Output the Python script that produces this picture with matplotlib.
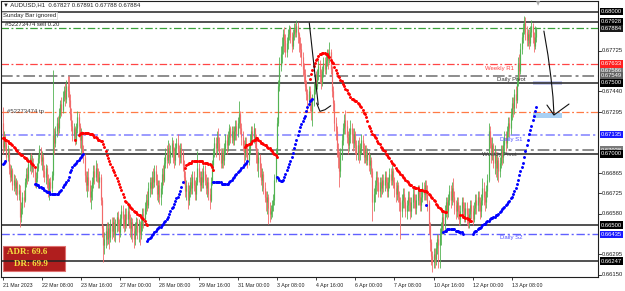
import matplotlib
matplotlib.use("Agg")
import matplotlib.pyplot as plt
from matplotlib.patches import Rectangle
from matplotlib.transforms import blended_transform_factory
import numpy as np

plt.rcParams["font.family"] = ["Liberation Sans", "DejaVu Sans"]

# ---------------- data (prices in 1/10000) ----------------
first_open = 6722
close_ = [
6705,6712,6708,6698,6702,6690,6684,6689,6678,6682,
6676,6680,6672,6675,6656,6662,6670,6668,6680,6686,
6683,6693,6697,6690,6694,6688,6680,6683,6690,6697,
6703,6695,6698,6688,6684,6690,6682,6674,6680,6676,
6685,6713,6708,6716,6722,6718,6728,6735,6731,6740,
6745,6739,6748,6744,6738,6728,6720,6713,6718,6710,
6718,6726,6720,6710,6714,6702,6698,6685,6678,6684,
6678,6670,6674,6680,6688,6684,6690,6686,6680,6684,
6668,6648,6636,6640,6646,6640,6648,6642,6650,6646,
6652,6644,6650,6656,6650,6645,6655,6660,6654,6650,
6658,6654,6660,6654,6648,6652,6646,6640,6648,6652,
6645,6650,6644,6652,6658,6654,6662,6668,6664,6676,
6680,6676,6684,6680,6688,6682,6672,6678,6670,6676,
6686,6682,6694,6700,6696,6704,6698,6702,6708,6700,
6696,6704,6708,6702,6698,6704,6700,6692,6684,6674,
6678,6668,6674,6680,6676,6684,6678,6672,6680,6690,
6684,6678,6684,6680,6688,6682,6676,6680,6672,6668,
6680,6692,6700,6708,6704,6712,6708,6700,6694,6700,
6696,6704,6710,6706,6712,6718,6712,6716,6710,6716,
6720,6714,6722,6728,6718,6712,6706,6700,6708,6702,
6696,6704,6710,6716,6712,6718,6712,6700,6694,6698,
6690,6682,6686,6676,6670,6666,6670,6662,6658,6660,
6664,6668,6682,6700,6722,6748,6762,6770,6776,6784,
6780,6772,6778,6784,6788,6782,6776,6784,6788,6786,
6790,6784,6778,6774,6768,6760,6756,6748,6742,6738,
6744,6736,6730,6738,6746,6752,6748,6756,6762,6756,
6750,6758,6764,6760,6766,6770,6766,6772,6760,6744,
6736,6722,6716,6704,6698,6688,6700,6710,6718,6724,
6720,6712,6706,6714,6718,6714,6708,6714,6706,6700,
6706,6700,6704,6710,6704,6698,6702,6696,6700,6692,
6696,6688,6666,6672,6678,6684,6680,6674,6680,6676,
6682,6678,6684,6680,6674,6680,6686,6682,6688,6680,
6676,6672,6678,6670,6666,6660,6668,6672,6666,6660,
6664,6670,6666,6660,6666,6672,6668,6662,6668,6674,
6670,6664,6670,6676,6672,6678,6672,6666,6650,6638,
6628,6624,6630,6626,6634,6640,6636,6644,6648,6656,
6650,6660,6666,6660,6668,6674,6668,6676,6670,6664,
6660,6666,6660,6654,6660,6666,6662,6656,6662,6658,
6652,6658,6664,6660,6654,6662,6668,6664,6670,6666,
6660,6668,6676,6670,6666,6674,6682,6716,6708,6700,
6706,6694,6700,6690,6696,6688,6694,6702,6698,6706,
6712,6708,6716,6722,6718,6728,6736,6732,6742,6738,
6750,6764,6758,6774,6782,6788,6792,6786,6780,6784,
6778,6786,6790,6782,6776,6782,6788]
high_ = [
6733,6716,6714,6710,6706,6704,6693,6692,6690,6686,
6685,6683,6682,6679,6678,6666,6673,6675,6683,6690,
6691,6697,6700,6701,6699,6697,6690,6687,6694,6700,
6706,6705,6702,6700,6692,6693,6692,6686,6683,6684,
6688,6759,6718,6720,6726,6727,6732,6738,6740,6744,
6748,6750,6752,6755,6755,6742,6732,6724,6722,6720,
6722,6730,6729,6722,6718,6716,6706,6700,6688,6688,
6690,6682,6678,6684,6692,6692,6696,6694,6690,6688,
6686,6670,6650,6645,6650,6652,6652,6651,6654,6656,
6656,6656,6654,6659,6660,6654,6658,6664,6664,6658,
6662,6662,6666,6664,6658,6656,6655,6650,6652,6656,
6655,6654,6653,6656,6662,6662,6666,6672,6674,6680,
6684,6684,6688,6690,6692,6692,6686,6682,6682,6680,
6690,6692,6698,6704,6706,6710,6708,6706,6712,6710,
6705,6708,6711,6714,6706,6708,6708,6703,6696,6688,
6682,6680,6678,6684,6686,6688,6688,6682,6684,6702,
6694,6688,6688,6690,6692,6692,6686,6684,6684,6676,
6684,6696,6704,6712,6712,6716,6718,6712,6704,6704,
6704,6708,6714,6714,6716,6721,6720,6720,6720,6720,
6724,6724,6726,6737,6730,6722,6716,6710,6712,6712,
6706,6708,6714,6720,6720,6722,6718,6714,6704,6702,
6700,6694,6690,6688,6680,6674,6674,6672,6666,6664,
6668,6672,6686,6704,6726,6752,6768,6776,6782,6788,
6789,6784,6782,6788,6791,6790,6786,6788,6792,6792,
6794,6793,6786,6782,6778,6772,6764,6760,6752,6746,
6748,6748,6740,6742,6750,6756,6758,6760,6766,6766,
6760,6762,6768,6768,6770,6774,6774,6779,6774,6762,
6748,6738,6726,6720,6708,6702,6704,6714,6722,6728,
6731,6724,6716,6718,6724,6722,6718,6718,6716,6710,
6710,6712,6708,6714,6713,6708,6706,6706,6704,6702,
6700,6698,6690,6676,6682,6688,6688,6684,6684,6684,
6686,6686,6688,6688,6684,6684,6690,6690,6692,6690,
6684,6680,6682,6680,6674,6670,6672,6676,6676,6670,
6668,6674,6674,6670,6670,6676,6676,6672,6672,6678,
6678,6674,6674,6680,6680,6682,6682,6678,6668,6652,
6640,6632,6634,6634,6638,6644,6644,6648,6652,6660,
6660,6664,6670,6670,6672,6678,6678,6680,6683,6674,
6668,6670,6670,6664,6664,6670,6670,6666,6666,6666,
6662,6662,6668,6668,6664,6666,6672,6672,6674,6674,
6670,6672,6683,6680,6674,6678,6686,6722,6720,6712,
6712,6708,6706,6702,6700,6698,6698,6706,6706,6710,
6716,6716,6720,6726,6726,6732,6740,6740,6746,6748,
6754,6768,6770,6778,6786,6792,6797,6796,6790,6788,
6788,6790,6794,6792,6786,6790,6789]
low_ = [
6700,6702,6703,6694,6695,6686,6680,6681,6675,6674,
6672,6671,6668,6668,6649,6652,6658,6663,6666,6677,
6679,6681,6688,6686,6687,6684,6677,6676,6680,6688,
6694,6692,6689,6684,6680,6679,6676,6670,6668,6672,
6673,6682,6700,6705,6712,6713,6715,6725,6727,6729,
6737,6734,6736,6740,6733,6724,6716,6709,6710,6706,
6707,6715,6712,6704,6700,6698,6694,6680,6674,6670,
6674,6666,6661,6668,6676,6679,6681,6680,6676,6676,
6664,6642,6624,6630,6634,6636,6637,6633,6638,6640,
6642,6639,6638,6645,6646,6638,6642,6650,6648,6645,
6646,6648,6650,6648,6642,6640,6638,6634,6636,6643,
6640,6638,6636,6640,6646,6648,6650,6658,6660,6662,
6670,6672,6672,6676,6677,6678,6668,6666,6665,6664,
6672,6678,6680,6690,6690,6694,6692,6694,6698,6694,
6690,6692,6700,6698,6692,6694,6694,6688,6679,6670,
6668,6661,6664,6670,6672,6672,6674,6668,6668,6678,
6680,6674,6674,6676,6676,6678,6672,6670,6668,6661,
6666,6678,6688,6698,6698,6700,6702,6696,6690,6690,
6690,6692,6700,6700,6702,6706,6708,6708,6706,6706,
6710,6710,6712,6718,6714,6706,6702,6694,6696,6698,
6690,6692,6700,6706,6706,6708,6704,6694,6688,6684,
6684,6678,6674,6672,6666,6660,6658,6651,6652,6654,
6656,6660,6664,6680,6698,6720,6744,6758,6764,6770,
6772,6768,6768,6774,6780,6778,6772,6774,6780,6782,
6782,6778,6772,6768,6762,6755,6750,6744,6738,6730,
6734,6730,6724,6720,6734,6742,6744,6746,6752,6750,
6746,6748,6754,6756,6756,6762,6760,6764,6756,6740,
6730,6716,6710,6698,6690,6677,6684,6696,6706,6714,
6714,6708,6700,6702,6708,6708,6702,6704,6700,6696,
6696,6694,6696,6700,6700,6694,6694,6692,6692,6688,
6686,6684,6653,6660,6666,6672,6674,6670,6670,6670,
6672,6673,6674,6676,6670,6670,6676,6678,6678,6676,
6670,6666,6668,6666,6660,6640,6656,6662,6662,6656,
6654,6660,6660,6654,6656,6662,6662,6658,6658,6664,
6664,6660,6660,6666,6668,6668,6668,6660,6644,6632,
6622,6617,6620,6620,6622,6630,6620,6620,6636,6644,
6644,6646,6656,6654,6656,6664,6662,6664,6666,6658,
6654,6656,6654,6650,6650,6656,6656,6652,6652,6650,
6648,6648,6654,6654,6650,6652,6658,6658,6660,6660,
6654,6656,6664,6664,6660,6662,6670,6680,6704,6694,
6696,6690,6686,6684,6682,6680,6684,6690,6692,6694,
6700,6702,6704,6712,6712,6714,6724,6726,6728,6732,
6736,6748,6752,6756,6770,6778,6784,6780,6776,6776,
6774,6776,6782,6778,6772,6774,6779]

# trend indicator (dotted), segments: start bar + values
red_starts = [0, 59, 62, 149, 198, 251, 374]
red_values = [
 [6711,6711,6710,6710,6709,6708,6708,6707,6706,6705,6704,6703,6702,6701,6700,6699,6699,6698,6697,6697,6696,6695,6695,6694,6693,6692,6691],
 [6710],
 [6713,6714,6715,6715,6715,6715,6715,6715,6715,6714,6714,6714,6713,6712,6712,6711,6710,6710,6709,6709,
  6707,6705,6702,6699,6697,6695,6693,6691,6689,6687,6685,6683,6681,6679,6677,6675,6672,6670,6667,6666,
  6665,6664,6663,6662,6661,6660,6659,6659,6658,6657,6657,6656,6655,6654,6653,6651,6650],
 [6690,6692,6693,6694,6694,6694,6695,6695,6695,6695,6695,6695,6695,6695,6695,6694,6694,6694,6694,6693,6693,6692,6691,6689],
 [6705,6706,6706,6707,6707,6708,6709,6710,6710,6711,6711,6710,6709,6708,6708,6707,6706,6706,6705,6704,6704,6703,6702,6701,6700,6699,6698],
 [6753,6756,6759,6762,6764,6766,6767,6769,6770,6770,6771,6771,6771,6770,6770,6769,6768,6766,6765,6764,
  6761,6759,6757,6755,6754,6752,6751,6749,6748,6746,6745,6743,6742,6740,6739,6739,6738,6737,6737,6736,
  6735,6734,6733,6731,6729,6728,6726,6723,6720,6718,6716,6714,6713,6712,6711,6709,6708,6707,6705,6704,
  6703,6702,6700,6699,6698,6697,6695,6694,6693,6692,6690,6689,6688,6687,6686,6685,6684,6683,6682,6681,
  6680,6679,6678,6678,6677,6677,6676,6676,6676,6675,6675,6675,6675,6674,6674,6674,6673,6672,6671,6670,
  6669,6668,6667,6665,6664,6663,6662,6661,6660,6660,6659,6659],
 [6657,6657,6656,6656,6655,6655,6654,6654,6653,6653],
]
blue_starts = [0, 26, 118, 172, 224, 346, 360, 384]
blue_values = [
 [6693,6694,6695],
 [6679,6679,6678,6678,6677,6677,6676,6676,6675,6674,6673,6673,6673,6672,6672,6672,6672,6672,6672,6672,
  6673,6674,6675,6677,6678,6679,6680,6682,6684,6687,6689,6691,6692,6693,6694,6695,6696,6697,6698,6699,6700],
 [6639,6640,6641,6642,6643,6644,6645,6646,6647,6648,6649,6649,6650,6651,6652,6653,6654,6656,6658,6660,
  6662,6663,6665,6667,6669,6670,6672,6674,6677,6680],
 [6680,6680,6680,6680,6680,6680,6680,6679,6679,6679,6679,6679,6679,6680,6681,6682,6683,6684,6685,6686,
  6687,6688,6689,6690,6691,6692,6693,6694,6695],
 [6684,6683,6682,6681,6681,6682,6684,6686,6689,6691,6693,6695,6698,6701,6704,6707,6710,6713,6716,6719,
  6721,6723,6725,6727,6730,6733,6735,6737,6738,6739],
 [6664],
 [6645,6646,6646,6647,6647,6647,6647,6647,6647,6647,6646,6646,6646,6645,6645,6645,6644],
 [6644,6645,6646,6646,6647,6648,6648,6649,6650,6651,6651,6652,6653,6653,6654,6655,6655,6656,6656,6657,
  6657,6658,6659,6660,6661,6662,6663,6664,6665,6666,6667,6669,6670,6672,6674,6676,6679,6682,6685,6688,
  6691,6694,6698,6702,6706,6710,6714,6717,6720,6724,6727,6730,6733],
]

x_tick_labels = ["21 Mar 2023", "22 Mar 08:00", "23 Mar 16:00", "27 Mar 00:00", "28 Mar 08:00",
                 "29 Mar 16:00", "31 Mar 00:00", "3 Apr 08:00", "4 Apr 16:00", "6 Apr 00:00",
                 "7 Apr 08:00", "10 Apr 16:00", "12 Apr 00:00", "13 Apr 08:00"]
bars_per_label = 32

solid_levels = [0.68000, 0.67928, 0.67500, 0.67000, 0.66500, 0.66247]
sell_price = 0.67884
tp_price = 0.67295
weekly_r1 = 0.67633
daily_pivot = 0.67549
weekly_pivot = 0.67028
daily_s1 = 0.67135
daily_s2 = 0.66435

plain_ticks = [0.67725, 0.67440, 0.67295, 0.66865, 0.66725, 0.66580, 0.66295, 0.66150]

adr_text = "ADR: 69.6"
dr_text = "DR: 69.9"
header = "\u25bc AUDUSD,H1  0.67827 0.67891 0.67788 0.67884"

# hand drawn annotation strokes (bar index, price)
arrow1_line = ([250.5, 257.8], [0.67921, 0.67346])
arrow1_hook = ([256.5, 259.2, 263.3, 268.0], [0.67358, 0.67300, 0.67311, 0.67339])
arrow2_line = ([442.2, 445.5, 448.0, 449.6, 450.4], [0.67864, 0.67696, 0.67534, 0.67401, 0.67281])
arrow2_head = ([444.7, 450.4, 462.7], [0.67344, 0.67274, 0.67351])

# ---------------- figure ----------------
W, H = 625, 291
fig = plt.figure(figsize=(W / 100, H / 100), dpi=100)
fig.patch.set_facecolor("white")
ax = fig.add_axes([1 / W, 14 / H, 597 / W, 276 / H])
ax.set_xlim(-1.39, 486.4)
ax.set_ylim(0.661356, 0.680752)
for s in ax.spines.values():
    s.set_color("#202020")
    s.set_linewidth(0.8)

C = np.array(close_) / 10000.0
Hh = np.array(high_) / 10000.0
Ll = np.array(low_) / 10000.0
n = min(len(C), len(Hh), len(Ll))
C, Hh, Ll = C[:n], Hh[:n], Ll[:n]
O = np.concatenate([[first_open / 10000.0], C[:-1]])
idx = np.arange(n)
up = C >= O
cols = np.where(up, "#52b352", "#f26a6a")
top = np.maximum(Hh, np.maximum(O, C))
bot = np.minimum(Ll, np.minimum(O, C))
ax.vlines(idx, bot, top, colors=cols, lw=0.6, zorder=3)
ax.vlines(idx, np.minimum(O, C), np.maximum(O, C), colors=cols, lw=0.85, zorder=3)

# level lines
dd = (0, (6, 2, 1.5, 2))
for p in solid_levels:
    ax.axhline(p, color="#222222", lw=1.1, zorder=2)
ax.axhline(sell_price, color="#3aa03a", lw=0.9, ls=dd, zorder=2)
ax.axhline(weekly_r1, color="#ff4545", lw=0.9, ls=dd, zorder=2)
ax.axhline(daily_pivot, color="#8c8c8c", lw=1.4, ls=dd, zorder=2)
ax.axhline(weekly_pivot, color="#8c8c8c", lw=1.4, ls=dd, zorder=2)
ax.axhline(tp_price, color="#ff7a45", lw=0.9, ls=dd, zorder=2)
ax.axhline(daily_s1, color="#8080ff", lw=1.1, ls=dd, zorder=2)
ax.axhline(daily_s2, color="#6060ff", lw=1.0, ls=dd, zorder=2)

# indicator dots
for st, vals in zip(red_starts, red_values):
    xs = np.arange(st, st + len(vals))
    ax.scatter(xs, np.array(vals) / 10000.0, s=4.5, color="#ff0000", lw=0, zorder=4)
for st, vals in zip(blue_starts, blue_values):
    xs = np.arange(st, st + len(vals))
    ax.scatter(xs, np.array(vals) / 10000.0, s=4.5, color="#0000ff", lw=0, zorder=4)

# light rectangles
ax.add_patch(Rectangle((433.2, 0.67253), 23.8, 0.00035, fc="#a8d0f4", ec="none", zorder=2.5))
ax.add_patch(Rectangle((433.2, 0.67485), 23.8, 0.00028, fc="#c8cdf0", ec="none", zorder=1.5))

# hand drawn arrows
for xs, ys in (arrow1_line, arrow1_hook, arrow2_line, arrow2_head):
    ax.plot(xs, ys, color="#111111", lw=0.8, zorder=6, solid_capstyle="round")

# level texts
lt = 4.3
ax.text(394, 0.67604, "Weekly R1", color="#ff4040", fontsize=lt, va="center", zorder=5)
ax.text(403.8, 0.67527, "Daily Pivot", color="#303030", fontsize=lt, va="center", zorder=5)
ax.text(406.3, 0.67105, "Daily S1", color="#5050ff", fontsize=lt, va="center", zorder=5)
ax.text(391.6, 0.66993, "Weekly Pivot", color="#404040", fontsize=lt, va="center", zorder=5)
ax.text(406.3, 0.66410, "Daily S2", color="#5050ff", fontsize=lt, va="center", zorder=5)

# x ticks
ticks = np.arange(len(x_tick_labels)) * bars_per_label
ax.set_xticks(ticks)
ax.set_xticklabels(x_tick_labels, fontsize=3.8, ha="left")
ax.tick_params(axis="x", direction="out", length=2.5, width=0.6, pad=1.5, colors="#202020")
ax.set_yticks([])

# right price labels
fs_r = 4.2
tr = blended_transform_factory(ax.transAxes, ax.transData)
for p in plain_ticks:
    ax.plot([1.0, 1.005], [p, p], transform=tr, color="#202020", lw=0.6, clip_on=False)
    ax.text(1.007, p, f"{p:.5f}", transform=tr, fontsize=fs_r, va="center", ha="left", color="#202020")
boxed = [
    (0.67586, "#7a7a7a", "white"),
    (0.67549, "#606060", "white"),
    (weekly_pivot, "#7a7a7a", "white"),
    (0.68000, "#000000", "white"),
    (0.67928, "#000000", "white"),
    (sell_price, "#1a1a1a", "white"),
    (weekly_r1, "#ff2020", "white"),
    (0.67500, "#000000", "white"),
    (daily_s1, "#1a1aff", "white"),
    (0.67000, "#000000", "white"),
    (0.66500, "#000000", "white"),
    (daily_s2, "#1a1aff", "white"),
    (0.66247, "#000000", "white"),
]
for p, bg, fg in boxed:
    ax.text(1.005, p, f"{p:.5f}", transform=tr, fontsize=fs_r, va="center", ha="left", color=fg,
            bbox=dict(boxstyle="square,pad=0.2", fc=bg, ec="none"), clip_on=False)

# header texts
def fxy(x, y):
    return x / W, 1 - y / H

ft = 4.3
fig.text(*fxy(3, 5), header, fontsize=ft, va="center", ha="left", color="#202020")
fig.text(*fxy(3, 15.5), "Sunday Bar ignored", fontsize=ft, va="center", ha="left", color="#202020",
         bbox=dict(boxstyle="square,pad=0.2", fc="white", ec="#d0d0d0", lw=0.5), zorder=10)
fig.text(*fxy(5, 25), "#52273474 sell 0.20", fontsize=ft, va="center", ha="left", color="#202020")
fig.text(*fxy(7, 111), "#52273474 tp", fontsize=ft, va="center", ha="left", color="#404040")

# ADR box
fig.add_artist(Rectangle(fxy(3, 271), 62 / W, 25 / H, transform=fig.transFigure,
                         fc="#b01e1e", ec="#e07070", lw=0.8, zorder=1))
ax.set_zorder(2)
ax.patch.set_alpha(0)
fig.text(*fxy(7, 252.5), adr_text, fontsize=6.5, va="center", ha="left", color="#f4e040",
         family=["Liberation Serif", "DejaVu Serif"], weight="bold", zorder=12)
fig.text(*fxy(14, 264.5), dr_text, fontsize=6.5, va="center", ha="left", color="#f4e040",
         family=["Liberation Serif", "DejaVu Serif"], weight="bold", zorder=12)

# chart shift marker
fig.text(*fxy(538, 3.5), "\u25bc", fontsize=4, color="#a8a8a8", ha="center", va="center",
         family=["DejaVu Sans"])

fig.savefig("out.png", dpi=100, facecolor="white")
